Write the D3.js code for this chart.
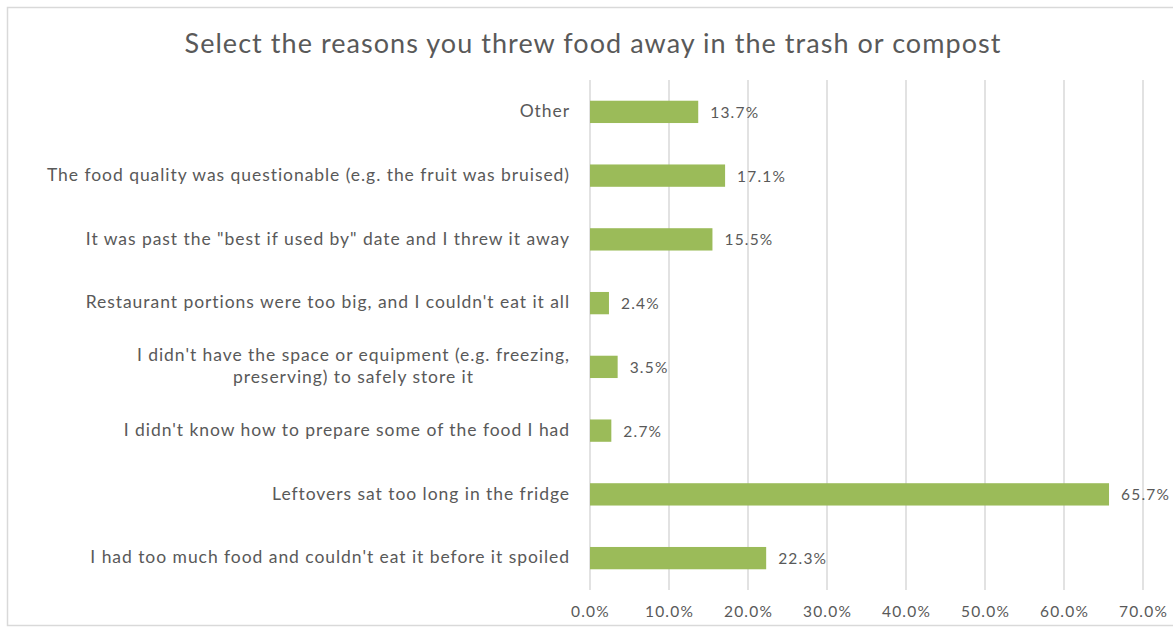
<!DOCTYPE html>
<html>
<head>
<meta charset="utf-8">
<script src="https://cdn.jsdelivr.net/npm/d3@7"></script>
<style>
  body { margin: 0; background: #fff; }
  text { font-family: Lato, "Open Sans", sans-serif; fill: #595959; }
</style>
</head>
<body>
<div id="chart"></div>
<script>
// categories, top to bottom as drawn
var categories = [
  "Other",
  "The food quality was questionable (e.g. the fruit was bruised)",
  "It was past the \"best if used by\" date and I threw it away",
  "Restaurant portions were too big, and I couldn't eat it all",
  "I didn't have the space or equipment (e.g. freezing,|preserving) to safely store it",
  "I didn't know how to prepare some of the food I had",
  "Leftovers sat too long in the fridge",
  "I had too much food and couldn't eat it before it spoiled"
];
var values = [13.7, 17.1, 15.5, 2.4, 3.5, 2.7, 65.7, 22.3];
var xTicks = [0, 10, 20, 30, 40, 50, 60, 70];
var title = "Select the reasons you threw food away in the trash or compost";

var width = 1173, height = 629;
var margin = {top: 80, right: 30, bottom: 39, left: 590};

var svg = d3.select('#chart')
  .append('svg')
  .attr('width', width)
  .attr('height', height);

// chart frame
svg.append('rect')
  .attr('x', 7.5).attr('y', 7.5)
  .attr('width', 1200).attr('height', 618)
  .attr('fill', 'none')
  .attr('stroke', '#d9d9d9')
  .attr('stroke-width', 1.5);

svg.append('text')
  .attr('x', 593)
  .attr('y', 53)
  .attr('text-anchor', 'middle')
  .style('font-size', '27px')
  .style('letter-spacing', '1.05px')
  .text(title);

var x = d3.scaleLinear().domain([0, 70]).range([margin.left, 1143]);
var y = d3.scaleBand()
  .domain(categories)
  .range([margin.top, height - margin.bottom])
  .paddingInner(0.65)
  .paddingOuter(0.325);

// gridlines
svg.append('g')
  .selectAll('line')
  .data(xTicks)
  .enter().append('line')
  .attr('x1', function(d) { return x(d); })
  .attr('x2', function(d) { return x(d); })
  .attr('y1', margin.top)
  .attr('y2', height - margin.bottom)
  .attr('stroke', '#d9d9d9')
  .attr('stroke-width', 1.5);

// x axis labels
var xAxis = svg.append('g')
  .attr('transform', 'translate(0,' + (height - margin.bottom + 13) + ')')
  .call(d3.axisBottom(x).tickValues(xTicks).tickSize(0).tickFormat(function(d) { return d.toFixed(1) + '%'; }));
xAxis.select('.domain').remove();
xAxis.selectAll('text')
  .style('font-size', '15.5px')
  .style('letter-spacing', '1.2px')
  .style('font-family', 'Lato, sans-serif')
  .attr('fill', '#595959');

// bars
svg.append('g')
  .selectAll('rect')
  .data(values)
  .enter().append('rect')
  .attr('x', x(0))
  .attr('y', function(d, i) { return y(categories[i]); })
  .attr('width', function(d) { return x(d) - x(0); })
  .attr('height', y.bandwidth())
  .attr('fill', '#9bbb59');

// value labels
svg.append('g')
  .selectAll('text')
  .data(values)
  .enter().append('text')
  .attr('x', function(d) { return x(d) + 12; })
  .attr('y', function(d, i) { return y(categories[i]) + y.bandwidth() / 2; })
  .attr('dy', '0.38em')
  .style('font-size', '15.5px')
  .style('letter-spacing', '1.2px')
  .text(function(d) { return d.toFixed(1) + '%'; });

// category labels (right aligned, wrapped block centered)
var labelRight = 570;
categories.forEach(function(c) {
  var lines = c.split('|');
  var cy = y(c) + y.bandwidth() / 2;
  var g = svg.append('g');
  var lh = 22;
  var ts = lines.map(function(l, j) {
    return g.append('text')
      .attr('y', cy + (j - (lines.length - 1) / 2) * lh - 1)
      .attr('dy', '0.35em')
      .style('font-size', '17.5px')
      .style('letter-spacing', '0.95px')
      .text(l);
  });
  if (lines.length === 1) {
    ts[0].attr('x', labelRight).attr('text-anchor', 'end');
  } else {
    var maxW = d3.max(ts, function(t) { return t.node().getComputedTextLength(); });
    ts.forEach(function(t) {
      t.attr('x', labelRight - maxW / 2).attr('text-anchor', 'middle');
    });
  }
});
</script>
</body>
</html>
